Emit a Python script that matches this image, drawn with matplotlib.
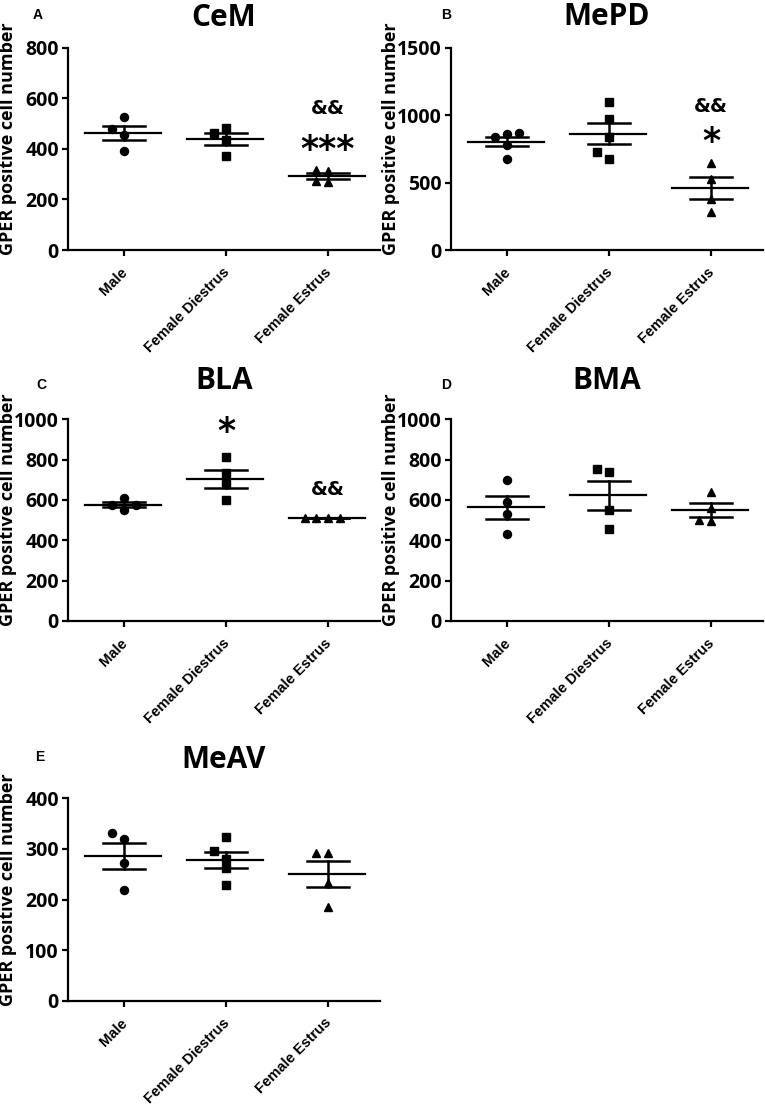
import numpy as np
import matplotlib
matplotlib.use("Agg")
import matplotlib.pyplot as plt
import matplotlib.transforms as mtransforms

# Grupos (eje x)
groups = ["Male", "Female Diestrus", "Female Estrus"]

# Valores (celulas GPER positivas)
cem_male = [390, 455, 477, 527]
cem_diestrus = [372, 435, 464, 484]
cem_estrus = [270, 272, 312, 318]

mepd_male = [677, 778, 835, 860, 865]
mepd_diestrus = [672, 724, 840, 974, 1100]
mepd_estrus = [284, 376, 524, 647]

bla_male = [550, 575, 575, 608]
bla_diestrus = [600, 679, 732, 812]
bla_estrus = [510, 511, 512, 513]

bma_male = [431, 529, 592, 699]
bma_diestrus = [456, 550, 737, 752]
bma_estrus = [496, 501, 562, 641]

meav_male = [219, 273, 320, 332]
meav_diestrus = [228, 262, 281, 295, 323]
meav_estrus = [185, 233, 291, 291]

titles = ["CeM", "MePD", "BLA", "BMA", "MeAV"]
letters = ["A", "B", "C", "D", "E"]
ymax = [800, 1500, 1000, 1000, 400]
ystep = [200, 500, 200, 200, 100]

# anotaciones: (panel, grupo, texto, valor y)
notes = [
    (0, 2, "&&", 560), (0, 2, "***", 395),
    (1, 2, "&&", 1063), (1, 2, "*", 800),
    (2, 1, "*", 935), (2, 2, "&&", 650),
]

data = [
    [cem_male, cem_diestrus, cem_estrus],
    [mepd_male, mepd_diestrus, mepd_estrus],
    [bla_male, bla_diestrus, bla_estrus],
    [bma_male, bma_diestrus, bma_estrus],
    [meav_male, meav_diestrus, meav_estrus],
]

markers = ["o", "s", "^"]

W, H = 765, 1108
fig = plt.figure(figsize=(W / 100, H / 100), dpi=100)

# posiciones en pixeles: (izq, arriba, der, abajo)
boxes = [
    (68, 47.7, 380, 250),
    (451, 47.7, 763, 250),
    (68, 419.3, 380, 621),
    (451, 419.3, 763, 621),
    (68, 798.3, 380, 1000.7),
]
letter_pos = [(38, 15), (446, 15), (41, 385), (446, 385), (40, 757)]
title_pad = [15.5, 16, 21.5, 21.5, 21.5]

font_main = "Open Sans"
font_lbl = "Liberation Sans"


def swarm(ax, xc, vals, d=0.115, thr=8.5):
    # beeswarm simple en pixeles
    placed = []
    order = np.argsort(vals)
    out = [None] * len(vals)
    for i in order:
        v = vals[i]
        for k in [0, -1, 1, -2, 2, -3, 3]:
            x = xc + k * d
            p = ax.transData.transform((x, v))
            if all(np.hypot(*(p - q)) >= thr for q in placed):
                placed.append(p)
                out[i] = x
                break
    return out


for n in range(5):
    l, t, r, b = boxes[n]
    ax = fig.add_axes([l / W, 1 - b / H, (r - l) / W, (b - t) / H])
    ax.set_xlim(-0.55, 2.51)
    ax.set_ylim(0, ymax[n])
    for s in ["top", "right"]:
        ax.spines[s].set_visible(False)
    for s in ["left", "bottom"]:
        ax.spines[s].set_linewidth(1.6)

    for g in range(3):
        vals = np.array(data[n][g], dtype=float)
        xs = swarm(ax, g, vals)
        ax.plot(xs, vals, linestyle="none", marker=markers[g], color="black",
                markersize=5.8 if g != 2 else 6.2, zorder=3)
        m = vals.mean()
        sem = vals.std(ddof=1) / np.sqrt(len(vals))
        ax.plot([g - 0.38, g + 0.36], [m, m], color="black", lw=1.6, zorder=4)
        ax.plot([g, g], [m - sem, m + sem], color="black", lw=1.8, zorder=4)
        for yy in [m - sem, m + sem]:
            ax.plot([g - 0.21, g + 0.21], [yy, yy], color="black", lw=1.8, zorder=4)

    ax.tick_params(axis="both", direction="out", length=4.5, width=1.6, pad=2)
    ax.set_yticks(np.arange(0, ymax[n] + 1, ystep[n]))
    ax.set_yticklabels([str(v) for v in np.arange(0, ymax[n] + 1, ystep[n])],
                       fontsize=14, fontweight="bold", family=font_main)
    ax.set_xticks(range(3))
    ax.set_xticklabels(groups, rotation=45, ha="right", va="top",
                       rotation_mode="anchor", fontsize=10.5,
                       fontweight="bold", family=font_lbl)
    offset = mtransforms.ScaledTranslation(-4 / 100, -6 / 100, fig.dpi_scale_trans)
    for lab in ax.get_xticklabels():
        lab.set_transform(lab.get_transform() + offset)

    ax.set_ylabel("GPER positive cell number", fontsize=13, fontweight="bold",
                  family=font_main)
    ax.yaxis.set_label_coords(-0.163, 0.55)
    ax.set_title(titles[n], fontsize=21.5, fontweight="bold", family=font_main,
                 pad=title_pad[n])

    lx, ly = letter_pos[n]
    fig.text(lx / W, 1 - ly / H, letters[n], fontsize=10, fontweight="bold",
             family=font_lbl, ha="center", va="center")

    for (p, g, txt, yv) in notes:
        if p != n:
            continue
        if "*" in txt:
            ax.text(g, yv, txt, ha="center", va="center", fontsize=25,
                    fontweight="bold", family="DejaVu Sans")
        else:
            ax.text(g, yv, txt, ha="center", va="center", fontsize=14,
                    fontweight="bold", family="DejaVu Sans")

fig.savefig("out.png", dpi=100)
